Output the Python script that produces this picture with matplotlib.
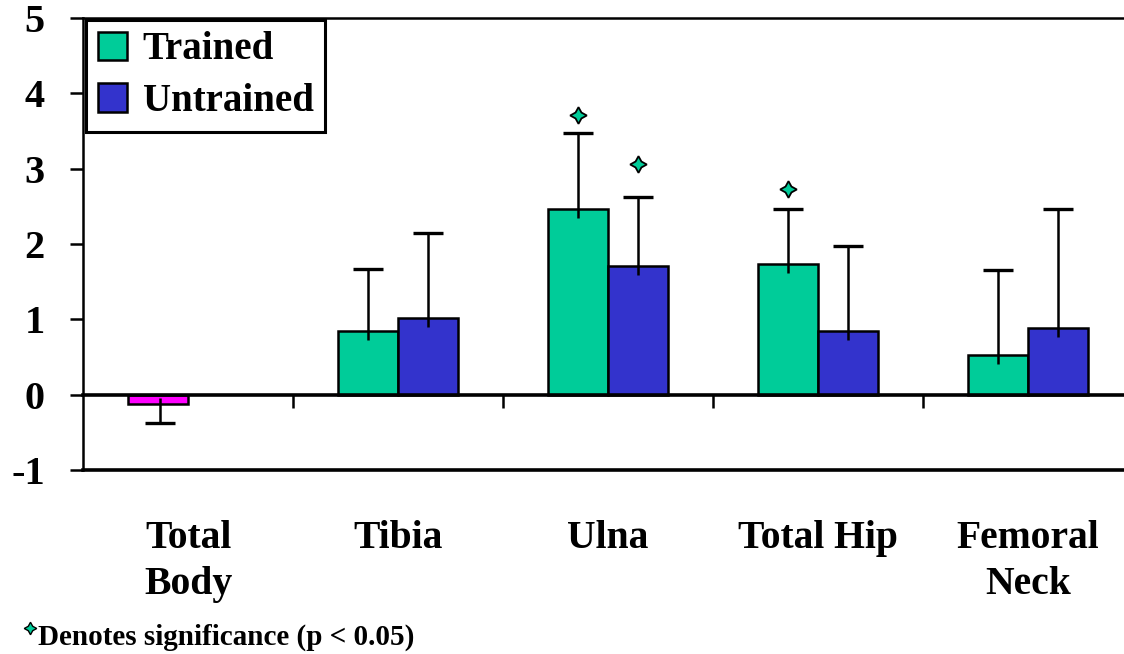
import numpy as np
import matplotlib.pyplot as plt
from matplotlib.patches import Patch
from matplotlib.lines import Line2D

plt.rcParams['font.family'] = ['Liberation Serif', 'DejaVu Serif']

categories = ['Total\nBody', 'Tibia', 'Ulna', 'Total Hip', 'Femoral\nNeck']

# Total Body has a single bar (drawn in magenta)
total_body = -0.12
total_body_err = 0.26

trained = [0.85, 2.47, 1.73, 0.53]
trained_err = [0.82, 1.01, 0.74, 1.12]
untrained = [1.02, 1.71, 0.85, 0.89]
untrained_err = [1.12, 0.92, 1.13, 1.57]

# significance stars: (category index, y)
sig_trained = [(2, 3.71), (3, 2.73)]
sig_untrained = [(2, 3.06)]

green = '#00CC99'
blue = '#3333CC'
magenta = '#FF00FF'

fig = plt.figure(figsize=(11.24, 6.54), dpi=100)
ax = fig.add_axes([83 / 1124, 184 / 654, 1050 / 1124, 452 / 654])

w = 0.286
off = 0.143
x = np.arange(len(categories))
xb = x[1:]


def err_up(xs, ys, es, z, inset=0.12):
    # stem starts a little inside the bar, cap only at the far end
    ys = np.asarray(ys, dtype=float)
    es = np.asarray(es, dtype=float)
    ax.vlines(xs, ys - inset * np.sign(es), ys + es, color='black', lw=1.8, zorder=z)
    ax.plot(xs, ys + es, marker='_', markersize=21, mew=2.4, color='black',
            linestyle='none', zorder=z)


ax.bar(x[0] - off, total_body, w, color=magenta, edgecolor='black', lw=1.8, zorder=2)
err_up([x[0] - off + 0.01], [total_body], [-total_body_err], 3, inset=0.08)

ax.bar(xb - off, trained, w, color=green, edgecolor='black', lw=1.8, zorder=2)
ax.bar(xb + off, untrained, w, color=blue, edgecolor='black', lw=1.8, zorder=2)
err_up(xb - off, trained, trained_err, 3)
err_up(xb + off, untrained, untrained_err, 3)

star = dict(marker=(4, 1, 0), markersize=12, markerfacecolor=green,
            markeredgecolor='black', markeredgewidth=1.3, linestyle='none', zorder=4)
for i, yv in sig_trained:
    ax.plot(x[i] - off, yv, **star)
for i, yv in sig_untrained:
    ax.plot(x[i] + off, yv, **star)

ax.set_xlim(-0.5, 4.5)
ax.set_ylim(-1, 5)
ax.set_yticks([-1, 0, 1, 2, 3, 4, 5])
ax.set_yticklabels(['-1', '0', '1', '2', '3', '4', '5'], fontsize=29, fontweight='bold')
ax.tick_params(axis='y', direction='out', length=9.5, width=1.8, pad=18)

ax.spines['bottom'].set_position(('data', 0))
ax.spines['bottom'].set_linewidth(2.6)
ax.spines['right'].set_visible(False)
ax.spines['left'].set_linewidth(1.8)
ax.spines['top'].set_linewidth(1.8)
ax.axhline(-1, color='black', lw=2.6, clip_on=False)
ax.set_xticks(x[:-1] + 0.5)
ax.set_xticklabels([])
ax.tick_params(axis='x', direction='out', length=9, width=1.8)

for xi, lab in zip(x, categories):
    ax.text(xi, -1.66, lab, ha='center', va='top', fontsize=28.5, fontweight='bold',
            linespacing=1.33)

handles = [Patch(facecolor=green, edgecolor='black', lw=1.8, label='Trained'),
           Patch(facecolor=blue, edgecolor='black', lw=1.8, label='Untrained')]
leg = ax.legend(handles=handles, loc='upper left', bbox_to_anchor=(0.003, 0.996),
                prop={'size': 28, 'weight': 'bold'}, handlelength=0.75, handleheight=0.75,
                handletextpad=0.4, labelspacing=0.38, borderpad=0.3, fancybox=False,
                framealpha=1, edgecolor='black', borderaxespad=0)
leg.get_frame().set_linewidth(2.2)

fig.lines.append(Line2D([30 / 1124], [1 - 628 / 654], transform=fig.transFigure,
                        marker=(4, 1, 0), markersize=9, markerfacecolor=green,
                        markeredgecolor='black', markeredgewidth=1))
fig.text(38 / 1124, 1 - 645 / 654, 'Denotes significance (p < 0.05)', fontsize=21,
         fontweight='bold', ha='left', va='baseline')

fig.savefig('out.png', dpi=100)
